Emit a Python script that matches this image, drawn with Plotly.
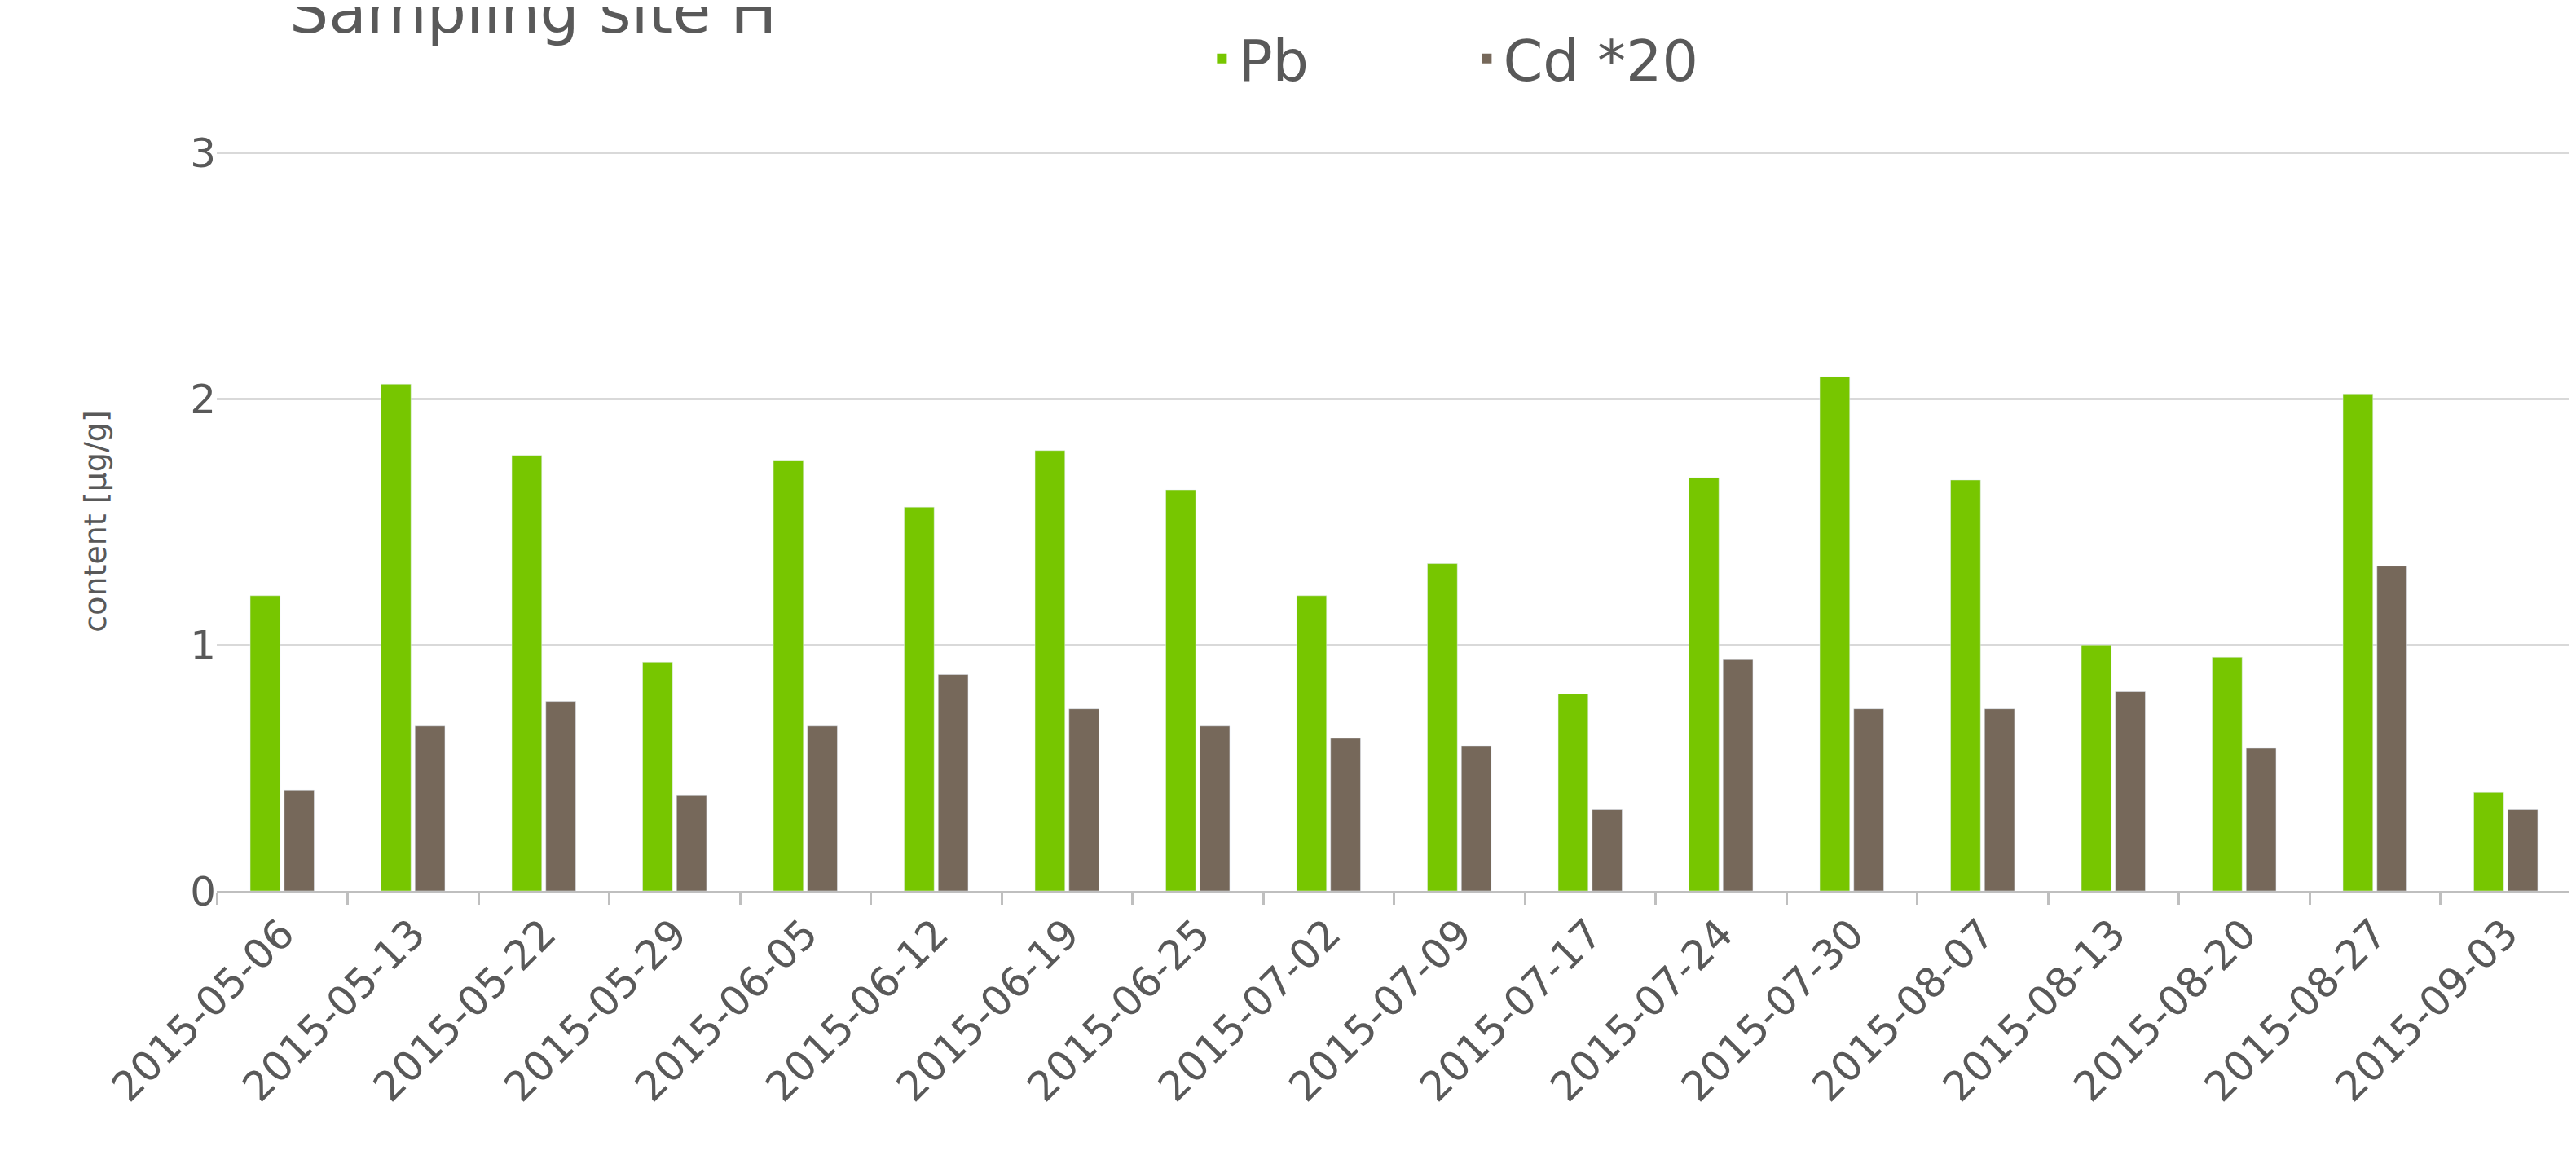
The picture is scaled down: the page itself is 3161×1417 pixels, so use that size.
import plotly.graph_objects as go

dates = ["2015-05-06","2015-05-13","2015-05-22","2015-05-29","2015-06-05","2015-06-12","2015-06-19","2015-06-25","2015-07-02","2015-07-09","2015-07-17","2015-07-24","2015-07-30","2015-08-07","2015-08-13","2015-08-20","2015-08-27","2015-09-03"]
pb = [1.2, 2.06, 1.77, 0.93, 1.75, 1.56, 1.79, 1.63, 1.2, 1.33, 0.8, 1.68, 2.09, 1.67, 1.0, 0.95, 2.02, 0.4]
cd20 = [0.41, 0.67, 0.77, 0.39, 0.67, 0.88, 0.74, 0.67, 0.62, 0.59, 0.33, 0.94, 0.74, 0.74, 0.81, 0.58, 1.32, 0.33]

green = "#77C600"
brown = "#76685A"
grey = "#595959"
fig = go.Figure()
fig.add_bar(x=dates, y=pb, name="Pb", marker_color=green, showlegend=False)
fig.add_bar(x=dates, y=cd20, name="Cd *20", marker_color=brown, showlegend=False)
for nm, c in [("Pb", green), ("Cd *20", brown)]:
    fig.add_scatter(x=[None], y=[None], mode="markers", name=nm,
                    marker=dict(symbol="square", size=34, color=c))
fig.update_layout(
    width=3161, height=1417, plot_bgcolor="white", paper_bgcolor="white",
    margin=dict(l=258, r=14, t=178, b=332, autoexpand=False),
    barmode="group", bargap=0.48, bargroupgap=0.12,
    font=dict(family="DejaVu Sans", color=grey),
    legend=dict(orientation="h", x=1470, y=62, xref="paper", yref="container",
                xanchor="left", yanchor="middle",
                font=dict(size=70, color=grey), entrywidth=280, entrywidthmode="pixels",
                traceorder="normal", itemsizing="constant"),
    annotations=[dict(text="Sampling site H", xref="paper", yref="paper",
                      x=0.03, y=1.19, xanchor="left", yanchor="middle",
                      showarrow=False, font=dict(size=76, color=grey))],
)
fig.layout.legend.x = 0.42
fig.layout.legend.y = 0.955
fig.update_xaxes(type="category", tickangle=-45, tickfont=dict(size=50, color=grey),
                 showline=True, linecolor="#BFBFBF", linewidth=3,
                 ticks="outside", tickson="boundaries", ticklen=14, tickcolor="#BFBFBF", tickwidth=3)
fig.update_yaxes(range=[0, 3.005], tickvals=[0, 1, 2, 3], showgrid=True, gridcolor="#D9D9D9", gridwidth=3,
                 zeroline=False, tickfont=dict(size=50, color=grey), ticks="",
                 title=dict(text="content [µg/g]", font=dict(size=38, color=grey), standoff=90))
fig.write_html("out.html")
